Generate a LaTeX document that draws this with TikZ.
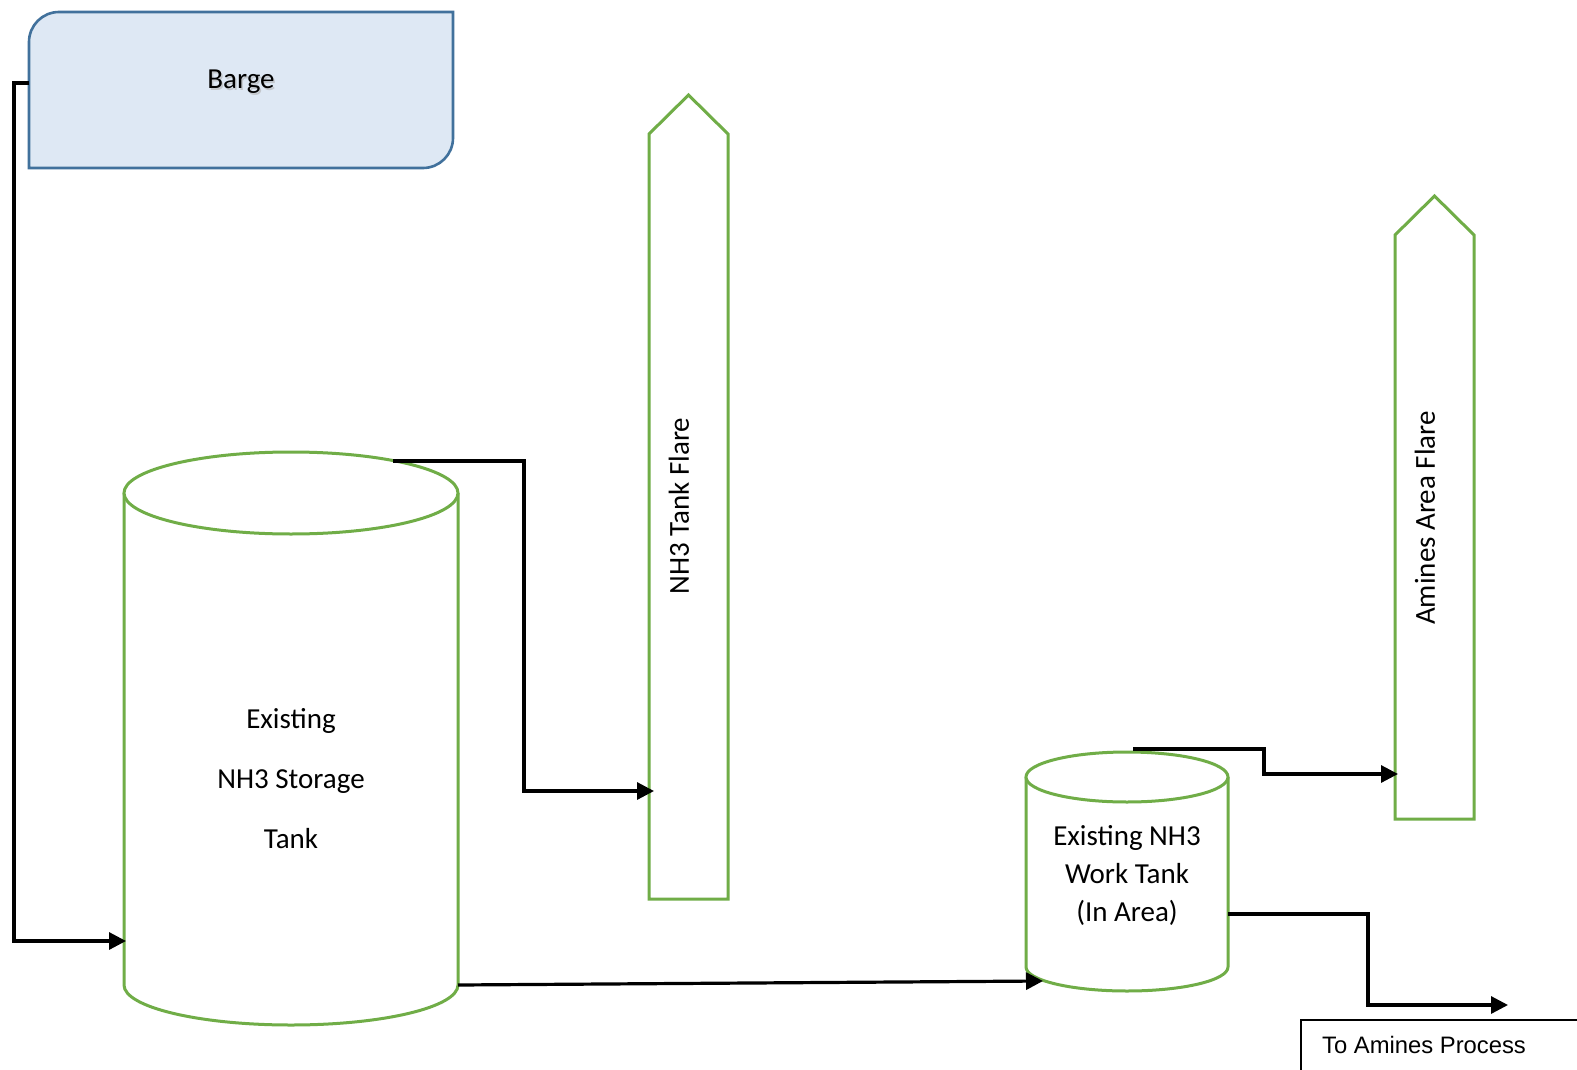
\documentclass[tikz,border=0pt]{standalone}
\usepackage{fontspec}
\setmainfont{Carlito}
\newfontfamily\arialfont{Liberation Sans}
\usetikzlibrary{arrows.meta}
\definecolor{tankgreen}{HTML}{70AD47}
\definecolor{bargefill}{HTML}{DEE8F4}
\definecolor{bargeedge}{HTML}{41719C}
\begin{document}
\begin{tikzpicture}[x=1pt,y=-1pt,
  vessel/.style={draw=tankgreen,line width=3pt,fill=white},
  pipe/.style={draw=black,line width=3.2pt,-{Triangle[length=17pt,width=17pt]}},
  lbl/.style={font=\fontsize{29}{35}\selectfont,inner sep=0pt}]
\useasboundingbox (0,0) rectangle (1577,1070);
\fill[white] (0,0) rectangle (1577,1070);

% Barge
\draw[fill=bargefill,draw=bargeedge,line width=2.6pt]
  (29,168) -- (29,42) arc[start angle=180,end angle=270,radius=30] -- (453,12)
  -- (453,138) arc[start angle=0,end angle=90,radius=30] -- cycle;
\node[lbl,text=gray!60,opacity=0.6] at (242.5,84) {Barge};
\node[lbl] (barge) at (241,82) {Barge};
\coordinate (bargeL) at (29,83);

% Flares
\draw[vessel] (649,899) -- (649,134) -- (688.5,95) -- (728,134) -- (728,899) -- cycle;
\node[lbl,rotate=90] (flare1) at (679,506) {NH3 Tank Flare};
\coordinate (flare1in) at (654,791);

\draw[vessel] (1395,819) -- (1395,235) -- (1434.5,196) -- (1474,235) -- (1474,819) -- cycle;
\node[lbl,rotate=90] (flare2) at (1425,518) {Amines Area Flare};
\coordinate (flare2in) at (1398,774);

% Storage tank
\draw[vessel] (124,493) -- (124,985) arc[start angle=180,end angle=0,x radius=167,y radius=40]
  -- (458,493);
\draw[vessel] (291,493) ellipse[x radius=167,y radius=41];
\node[lbl,align=center,font=\fontsize{29}{60}\selectfont] (tank1) at (291,779)
  {Existing\\NH3 Storage\\Tank};
\coordinate (tank1L) at (126,941);
\coordinate (tank1top) at (393,461);
\coordinate (tank1out) at (458,985);

% Work tank
\draw[vessel] (1026,777) -- (1026,967) arc[start angle=180,end angle=0,x radius=101,y radius=24]
  -- (1228,777);
\draw[vessel] (1127,777) ellipse[x radius=101,y radius=25];
\node[lbl,align=center,font=\fontsize{29}{38}\selectfont] (tank2) at (1127,875)
  {Existing NH3\\Work Tank\\(In Area)};
\coordinate (tank2in) at (1043,981);
\coordinate (tank2top) at (1133,749);
\coordinate (tank2R) at (1228,914);

% Amines process box
\draw[line width=1.5pt] (1301,1085) -- (1301,1020) -- (1590,1020);
\node[anchor=base west,inner sep=0pt,font=\arialfont\fontsize{23.8}{28}\selectfont]
  (amines) at (1322,1053) {To Amines Process};
\coordinate (aminesin) at (1508,1005);

% Connectors
\draw[pipe] (bargeL) -- (14,83) |- (tank1L);
\draw[pipe] (tank1top) -- (524,461) |- (flare1in);
\draw[pipe] (tank1out) -- (tank2in);
\draw[pipe] (tank2top) -- (1264,749) |- (flare2in);
\draw[pipe] (tank2R) -- (1368,914) |- (aminesin);
\end{tikzpicture}
\end{document}
